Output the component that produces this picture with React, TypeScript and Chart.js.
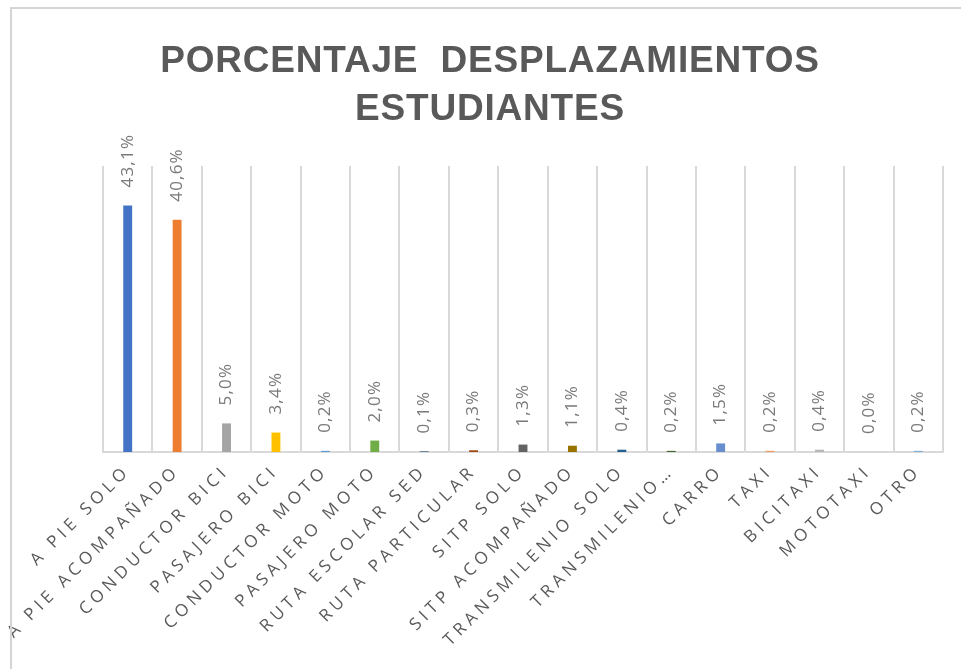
import { useEffect, useRef } from 'react';
import { Chart, registerables } from 'chart.js';

Chart.register(...registerables);

const categories = [
  'A PIE SOLO',
  'A PIE ACOMPAÑADO',
  'CONDUCTOR BICI',
  'PASAJERO BICI',
  'CONDUCTOR MOTO',
  'PASAJERO MOTO',
  'RUTA ESCOLAR SED',
  'RUTA PARTICULAR',
  'SITP SOLO',
  'SITP ACOMPAÑADO',
  'TRANSMILENIO SOLO',
  'TRANSMILENIO…',
  'CARRO',
  'TAXI',
  'BICITAXI',
  'MOTOTAXI',
  'OTRO',
];

const percentages = [43.1, 40.6, 5.0, 3.4, 0.2, 2.0, 0.1, 0.3, 1.3, 1.1, 0.4, 0.2, 1.5, 0.2, 0.4, 0.0, 0.2];

const barColors = [
  '#4472C4', '#ED7D31', '#A5A5A5', '#FFC000', '#5B9BD5', '#70AD47', '#264478', '#9E480E',
  '#636363', '#997300', '#255E91', '#43682B', '#698ED0', '#F1975A', '#B7B7B7', '#FFCD33', '#7CAFDD',
];

const titleLines = ['PORCENTAJE  DESPLAZAMIENTOS', 'ESTUDIANTES'];

const yMin = 0;
const yMax = 50;

const formatPct = (v: number) => v.toFixed(1).replace('.', ',') + '%';

const TICK_SPACING = '4.5px';

const customPlugin = {
  id: 'customDecor',
  beforeUpdate(chart: any) {
    chart.ctx.letterSpacing = TICK_SPACING;
  },
  beforeDraw(chart: any) {
    const ctx = chart.ctx;
    ctx.save();
    ctx.fillStyle = '#595959';
    ctx.font = 'bold 37px "Liberation Sans", Arial, sans-serif';
    ctx.letterSpacing = '0.8px';
    ctx.textAlign = 'center';
    ctx.textBaseline = 'alphabetic';
    ctx.fillText(titleLines[0], 490, 72);
    ctx.fillText(titleLines[1], 490, 120);
    ctx.restore();
    ctx.letterSpacing = TICK_SPACING;
  },
  afterDatasetsDraw(chart: any) {
    const ctx = chart.ctx;
    const meta = chart.getDatasetMeta(0);
    const data = chart.data.datasets[0].data as number[];
    ctx.save();
    ctx.letterSpacing = '1.2px';
    ctx.font = '17px "Open Sans", sans-serif';
    ctx.fillStyle = '#7a7a7a';
    ctx.textAlign = 'left';
    ctx.textBaseline = 'middle';
    meta.data.forEach((bar: any, i: number) => {
      ctx.save();
      ctx.translate(bar.x, bar.y - 18);
      ctx.rotate(-Math.PI / 2);
      ctx.fillText(formatPct(data[i]), 0, 0);
      ctx.restore();
    });
    ctx.restore();
  },
  afterDraw(chart: any) {
    const ctx = chart.ctx;
    ctx.save();
    ctx.strokeStyle = '#d4d4d4';
    ctx.lineWidth = 2;
    ctx.beginPath();
    ctx.moveTo(11, chart.height);
    ctx.lineTo(11, 8);
    ctx.lineTo(chart.width, 8);
    ctx.stroke();
    ctx.restore();
  },
};

export default function App() {
  const canvasRef = useRef<HTMLCanvasElement | null>(null);

  useEffect(() => {
    if (!canvasRef.current) return;
    const chart = new Chart(canvasRef.current, {
      type: 'bar',
      data: {
        labels: categories,
        datasets: [
          {
            data: percentages,
            backgroundColor: barColors,
            borderWidth: 0,
            barPercentage: 0.18,
            categoryPercentage: 1,
          },
        ],
      },
      options: {
        responsive: false,
        animation: false,
        layout: { padding: { top: 166, left: 103, right: 18, bottom: 0 } },
        plugins: {
          legend: { display: false },
          title: { display: false },
          tooltip: { enabled: false },
        },
        scales: {
          x: {
            offset: true,
            grid: { offset: true, color: '#d9d9d9', lineWidth: 2, drawTicks: false },
            border: { color: '#d9d9d9', width: 2 },
            ticks: {
              autoSkip: false,
              minRotation: 45,
              maxRotation: 45,
              padding: 9,
              color: '#595959',
              font: { family: '"Open Sans", sans-serif', size: 17 },
            },
            afterFit: (scale: any) => {
              scale.height = 217;
            },
          },
          y: {
            display: false,
            min: yMin,
            max: yMax,
          },
        },
      },
      plugins: [customPlugin],
    });
    return () => chart.destroy();
  }, []);

  return (
    <div style={{ position: 'fixed', left: 0, top: 0, width: 961, height: 669, overflow: 'hidden', background: '#fff' }}>
      <canvas ref={canvasRef} width={961} height={669} style={{ display: 'block' }} />
    </div>
  );
}
